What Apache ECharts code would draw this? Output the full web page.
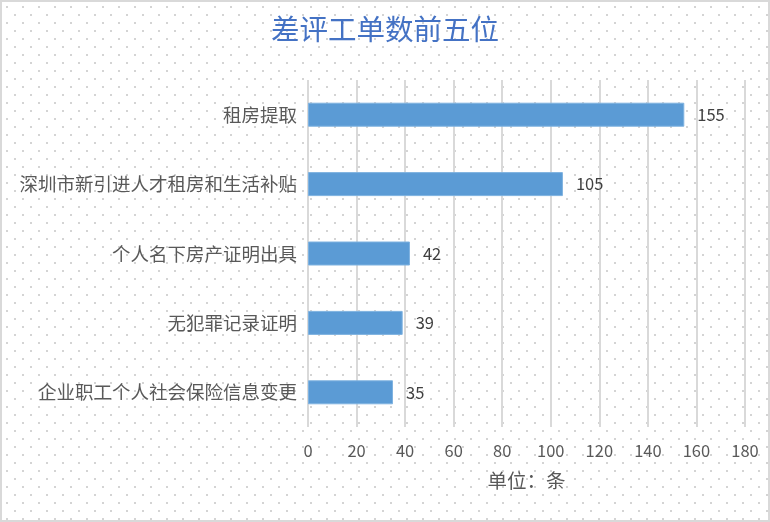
<!DOCTYPE html>
<html><head><meta charset="utf-8">
<script src="https://cdn.jsdelivr.net/npm/echarts@6/dist/echarts.min.js"></script>
<style>html,body{margin:0;padding:0;background:#fff}#c{width:770px;height:522px}</style>
</head><body><div id="c"></div>
<script>
const titleText = '差评工单数前五位';
const categories = ['租房提取','深圳市新引进人才租房和生活补贴','个人名下房产证明出具','无犯罪记录证明','企业职工个人社会保险信息变更'];
const values = [155, 105, 42, 39, 35];
const axisUnit = '单位：条';

const tile = document.createElement('canvas');
tile.width = 16; tile.height = 16;
const ctx = tile.getContext('2d');
ctx.fillStyle = '#fff'; ctx.fillRect(0,0,16,16);
ctx.fillStyle = '#d4d4d4';
ctx.fillRect(6,6,2,2);
ctx.fillRect(14,14,2,2);

const font = '"Noto Sans CJK SC", "Noto Sans", sans-serif';
const chart = echarts.init(document.getElementById('c'));
chart.setOption({
  backgroundColor: {image: tile, repeat: 'repeat'},
  textStyle: {fontFamily: font},
  title: {text: titleText, left: 'center', top: 10,
    textStyle: {color: '#4472C4', fontSize: 28.5, fontWeight: 'normal', fontFamily: font}},
  graphic: [{type: 'rect', shape: {x: 1, y: 1, width: 768, height: 520},
    style: {fill: 'none', stroke: '#d9d9d9', lineWidth: 2}, silent: true}],
  grid: {left: 308, right: 25, top: 80, bottom: 95, containLabel: false},
  xAxis: {type: 'value', min: 0, max: 180, interval: 20,
    name: axisUnit, nameLocation: 'middle', nameGap: 44,
    nameTextStyle: {color: '#595959', fontSize: 19.5, fontFamily: font},
    axisLine: {show: false}, axisTick: {show: false},
    axisLabel: {color: '#595959', fontSize: 16.5, margin: 15, fontFamily: font},
    splitLine: {show: true, lineStyle: {color: '#d9d9d9', width: 2}}},
  yAxis: {type: 'category', data: categories, inverse: true,
    axisLine: {show: false}, axisTick: {show: false},
    axisLabel: {color: '#595959', fontSize: 18.5, margin: 11, fontFamily: font},
    splitLine: {show: false}},
  series: [{type: 'bar', data: values, barWidth: 24,
    itemStyle: {color: '#5B9BD5', borderColor: '#7fb2e0', borderWidth: 1},
    label: {show: true, position: 'right', distance: 13, color: '#404040', fontSize: 16.5, fontFamily: font}}]
});
</script></body></html>
